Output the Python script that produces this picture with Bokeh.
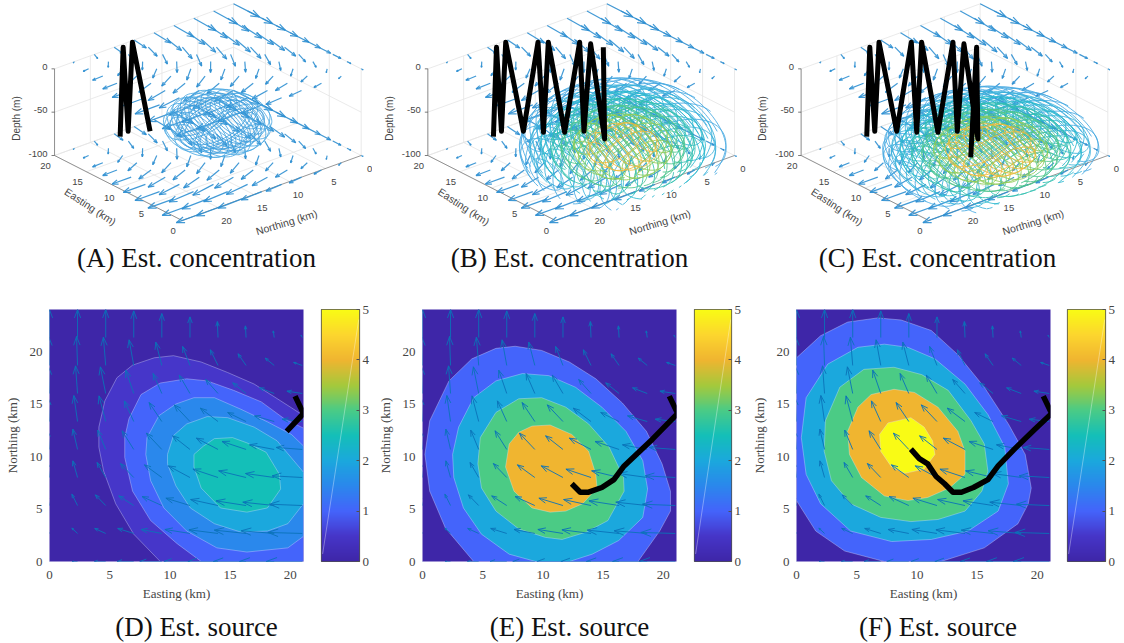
import numpy as np
from bokeh.core.properties import value
from bokeh.embed import file_html
from bokeh.layouts import column, row
from bokeh.models import FixedTicker, LinearColorMapper, Range1d
from bokeh.plotting import figure
from bokeh.resources import INLINE

# ---- velocity field (same grid in all panels); arrow lengths in plot units
EAST_GRID = [0, 2.33, 4.67, 7.0, 9.33, 11.67, 14.0, 16.33, 18.67, 21.0]
NORTH_GRID = [0, 2.67, 5.33, 8.0, 10.67, 13.33, 16.0, 18.67, 21.33]
U_ROWS = [
    [-8, -16, -34, -50, -66, -78, -90, -98, -104, -108],
    [-8, -17, -33, -48, -62, -75, -87, -95, -99, -103],
    [-7, -17, -31, -45, -59, -72, -82, -90, -94, -98],
    [-6, -14, -26, -40, -52, -65, -75, -82, -86, -90],
    [-5, -14, -24, -35, -46, -52, -65, -72, -74, -78],
    [-4, -11, -20, -28, -38, -47, -53, -55, -59, -60],
    [-3, -6, -16, -24, -26, -32, -37, -40, -44, -46],
    [-2, -3, -7, -14, -18, -22, -23, -24, -27, -26],
    [0, 0, 0, 0, 0, 0, -2, -2, -3, -4],
]
V_ROWS = [
    [0, 0, 0, 0, 0, 0, 0, 0, 0, 0],
    [15, 16, 15, 15, 12, 12, 11, 10, 8, 3],
    [30, 34, 32, 29, 27, 22, 18, 14, 10, 4],
    [45, 50, 45, 42, 38, 35, 25, 20, 12, 5],
    [55, 61, 58, 56, 49, 41, 34, 24, 14, 6],
    [70, 78, 77, 62, 57, 50, 40, 27, 17, 7],
    [80, 83, 80, 70, 60, 55, 42, 32, 17, 7],
    [85, 87, 85, 77, 70, 57, 47, 35, 22, 9],
    [84, 84, 84, 80, 72, 62, 48, 35, 20, 7],
]

# ---- source contours: (easting km, northing km)
D_05 = [(9.2,0),(7.0,2.6),(5.5,5.5),(4.5,8.6),(4.1,10.9),(4.1,12.8),(4.6,15.3),(5.6,17.5),(6.9,18.7),(8.7,19.4),(10.3,19.6),(12.6,19.0),(14.8,18.0),(17.0,16.9),(19.2,15.3),(21.1,13.9),(21.1,0)]
D_10 = [(12.6,0),(10.6,1.7),(8.4,3.9),(6.9,6.7),(6.25,9.9),(6.25,11.8),(6.6,13.6),(7.6,15.9),(9.2,17.0),(11.4,17.4),(13.1,17.2),(15.3,16.3),(17.6,15.2),(19.5,13.6),(21.1,12.7),(21.1,0)]
D_15 = [(21.1,2.4),(19.8,1.3),(16.4,0.9),(13.9,1.3),(11.4,2.9),(9.5,5.1),(8.4,7.7),(8.0,10.2),(8.1,11.8),(9.1,13.9),(10.5,15.0),(12.0,15.6),(13.7,15.6),(15.9,14.5),(18.1,13.3),(20.1,12.1),(21.1,11.0)]
D_20 = [(21.1,5.5),(19.8,3.6),(18.1,2.9),(15.9,2.8),(13.7,3.6),(11.7,5.1),(10.5,7.2),(9.8,9.3),(9.8,10.2),(10.3,12.0),(11.4,13.1),(13.1,13.8),(14.8,13.7),(17.0,12.8),(18.9,11.5),(21.1,8.5)]
D_25 = [(12.0,9.0),(12.0,10.2),(12.8,11.0),(13.7,11.7),(15.2,11.8),(16.4,11.3),(18.0,10.4),(19.1,8.3),(19.2,6.9),(18.1,5.1),(16.4,4.7),(14.2,5.1),(12.6,7.0)]
E_1 = [(4.25,0),(1.9,3.2),(0.6,6.7),(0.2,10.2),(0.6,13.4),(2.2,17.2),(4.1,19.3),(6.1,20.3),(7.7,20.5),(9.9,20.1),(12.2,19.0),(14.4,17.4),(16.6,15.1),(18.6,12.4),(19.9,9.3),(20.6,6.7),(20.6,4.8),(19.7,2.9),(17.9,0)]
E_2 = [(9.4,0),(7.2,0.7),(4.9,2.6),(3.4,5.1),(2.6,8.0),(2.5,10.2),(3.0,12.8),(4.25,15.6),(6.1,17.2),(8.3,17.9),(10.5,17.7),(12.7,16.6),(14.9,14.7),(16.9,12.4),(18.3,9.6),(18.7,6.9),(18.3,4.2),(16.3,2.0),(14.1,0.7),(12.2,0)]
E_3 = [(10.2,2.3),(8.0,3.1),(6.1,4.8),(4.9,7.0),(4.6,9.3),(4.8,11.8),(6.1,14.2),(8.0,15.5),(9.9,15.6),(11.9,14.7),(13.8,13.1),(15.5,10.9),(16.7,8.0),(16.75,6.7),(15.4,3.9),(13.6,2.8),(11.6,2.1)]
E_4 = [(10.6,4.7),(9.1,5.1),(7.6,6.7),(6.9,9.0),(7.2,11.2),(8.0,12.3),(9.1,12.9),(10.6,13.0),(12.4,12.1),(13.8,10.5),(14.4,8.3),(14.5,7.0),(13.3,5.5),(11.9,4.8)]
F_1 = [(0,5.8),(1.6,2.9),(4.0,1.0),(7.3,0),(12.0,0),(15.6,1.3),(18.4,3.6),(19.25,5.5),(19.5,7.0),(19.0,10.2),(17.6,13.1),(15.6,16.6),(13.4,19.7),(11.2,22.0),(8.7,23.0),(6.75,23.2),(4.25,22.8),(2.0,21.5),(0,19.4)]
F_2 = [(7.9,1.9),(4.5,2.9),(2.0,5.5),(0.8,8.3),(0.4,11.8),(0.8,15.6),(2.6,18.8),(5.1,20.4),(7.3,20.7),(9.25,20.4),(11.5,19.3),(14.0,16.9),(15.9,14.0),(17.3,10.9),(17.6,7.4),(16.75,4.8),(14.25,2.9),(11.2,2.1)]
F_3 = [(9.5,3.8),(7.0,4.2),(4.5,5.5),(2.9,7.7),(2.3,10.5),(2.4,13.4),(3.6,16.6),(5.6,18.3),(8.1,18.5),(10.4,17.8),(12.6,16.3),(14.5,13.4),(15.6,11.2),(15.9,8.6),(15.4,6.7),(14.0,4.8),(11.75,4.0)]
F_4 = [(9.25,5.8),(7.3,6.25),(5.4,8.0),(4.4,10.2),(4.25,12.4),(5.1,14.7),(6.2,15.9),(8.1,16.4),(9.8,16.1),(11.75,14.7),(13.4,12.4),(14.0,10.5),(14.0,8.3),(12.7,7.0),(10.9,6.1)]
F_5 = [(9.0,8.4),(7.9,9.0),(7.0,10.5),(6.9,12.1),(7.6,13.2),(9.5,13.7),(10.6,12.8),(11.3,11.5),(11.5,10.2),(10.6,8.8)]

# ---- vehicle paths on the source maps
PATH_D = [(20.4,15.75),(21.1,14.1),(19.7,12.4)]
PATH_E = [(20.5,15.75),(21.2,14.1),(19.1,11.65),(16.75,9.1),(15.9,7.8),(14.9,7.05),(13.8,6.6),(13.1,6.6),(12.4,7.4)]
PATH_F = [(20.5,15.75),(21.2,14.1),(19.8,12.6),(18.1,10.7),(16.75,9.1),(15.9,7.8),(14.7,7.05),(13.7,6.6),(13.0,6.6),(12.3,7.4),(11.6,8.1),(10.9,9.3),(10.2,9.8),(9.5,10.7)]

# ---- vehicle track in 3-D
TRACK_E = [18.64, 20.96, 19.08, 21.26, 17.65, 19.15, 16.17, 18.48, 14.78, 16.44, 13.7, 15.43, 10.98, 14.0, 8.15]
TRACK_N = [17.05, 14.56, 15.54, 13.0, 13.75, 10.37, 12.27, 9.53, 10.55, 6.97, 8.81, 6.34, 8.35, 5.84, 11.88]
TRACK_Z = [-97, -10, -97, -10, -97, -10, -97, -10, -97, -10, -97, -10, -97, -10, -97]
TRACK_LEN = {"A": 5, "B": 14, "C": 15}

# ---- estimated concentration iso-surfaces
SLICE_E = [1, 3.5, 6, 8.5, 11, 13.5, 16, 18.5]
SLICE_N = [1, 2.25, 3.5, 4.75, 6, 7.25, 8.5, 9.75, 11, 12.25, 13.5, 14.75, 16, 17.25, 18.5, 19.75, 21, 22.25, 23.5]
PLUME_A = dict(centre=(13.3, 8.2, -88), axes=(5.5, 5.8, 29), levels=[1.0, 0.88, 0.76], floor=-140,
               colors=["#4aa8e2", "#3f9fdd", "#3f9fdd"])
PLUME_B = dict(centre=(7.3, 9.1, -90), axes=(10.5, 11.0, 61), levels=[1.0, 0.9, 0.8, 0.7, 0.6, 0.48, 0.35], floor=-118,
               colors=["#46a9e2", "#3ab2da", "#2cb8cf", "#33bfb0", "#4cc68c", "#8fcb55", "#eeba3a"])
PLUME_C = dict(centre=(7.0, 10.1, -90), axes=(11.0, 11.5, 51), levels=[1.0, 0.92, 0.84, 0.74, 0.64, 0.53, 0.42], floor=-118,
               colors=["#46a9e2", "#3ab2da", "#2cb8cf", "#33bfb0", "#4cc68c", "#8fcb55", "#eeba3a"])

# ---- labels
TICKS_3D = [0, 5, 10, 15, 20]
DEPTH_TICKS = [0, -50, -100]
TICKS_2D = [0, 5, 10, 15, 20]
CB_TICKS = [0, 1, 2, 3, 4, 5]
CAPTIONS = ["(A) Est. concentration", "(B) Est. concentration", "(C) Est. concentration",
            "(D) Est. source", "(E) Est. source", "(F) Est. source"]

# ---- colours
ANCHOR_T = [0, .1, .2, .3, .4, .5, .6, .7, .8, .9, 1]
ANCHOR_C = ["#3e26a8", "#4636c9", "#4464fb", "#2a88ec", "#1ba8dd", "#14bfb8",
            "#4bcb85", "#a5c93c", "#f0b530", "#fcd52e", "#f9fb15"]


def parula(t):
    rgb = np.array([[int(c[i:i + 2], 16) for i in (1, 3, 5)] for c in ANCHOR_C], float)
    return "#%02x%02x%02x" % tuple(int(round(np.interp(t, ANCHOR_T, rgb[:, i]))) for i in range(3))


PALETTE = [parula(t) for t in np.linspace(0, 1, 256)]
E_MAX, N_MAX = 20.0, 25.0
QU, QV = 1 / 36, 1 / 31.5      # arrow length units -> km
FONT_3D = value("Liberation Sans")
FONT_2D = value("Liberation Serif")
GREY = "#454545"


def arrows(x0, y0, x1, y1):
    xs, ys = [], []
    for a, b, c, d in zip(x0, y0, x1, y1):
        dx, dy = c - a, d - b
        xs.append([a, c]); ys.append([b, d])
        bx, by = c - .3 * dx, d - .3 * dy
        nx, ny = -dy * .11, dx * .11
        xs.append([bx + nx, c, bx - nx]); ys.append([by + ny, d, by - ny])
    return xs, ys


def panel3d(name, left, width, ox, plume, caption, cap_x):
    def P(e, n, z):
        e, n, z = np.asarray(e, float), np.asarray(n, float), np.asarray(z, float)
        return ox - 7.16 * n - 6.383 * e, 155 + 2.6 * n - 3.25 * e - 0.8667 * (z + 100)

    p = figure(width=width, height=275, output_backend="svg", toolbar_location=None,
               x_range=Range1d(left, left + width), y_range=Range1d(275, 0),
               min_border=0, outline_line_color=None, x_axis_location=None, y_axis_location=None)
    p.grid.visible = False

    # walls and floor grid
    gx, gy = [], []
    def seg(a, b):
        x, y = P([a[0], b[0]], [a[1], b[1]], [a[2], b[2]])
        gx.append(list(x)); gy.append(list(y))
    for z in DEPTH_TICKS:
        seg((E_MAX, 0, z), (E_MAX, N_MAX, z)); seg((0, 0, z), (E_MAX, 0, z))
    for n in TICKS_3D[1:] + [N_MAX]:
        seg((E_MAX, n, 0), (E_MAX, n, -100)); seg((0, n, -100), (E_MAX, n, -100))
    for e in TICKS_3D[1:]:
        seg((e, 0, 0), (e, 0, -100)); seg((e, 0, -100), (e, N_MAX, -100))
    seg((0, 0, 0), (0, 0, -100))
    p.multi_line(gx, gy, line_color="#e4e4e4", line_width=0.8)

    # box axes
    ax, ay = [], []
    gx, gy = ax, ay
    seg((E_MAX, N_MAX, 0), (E_MAX, N_MAX, -100))
    seg((E_MAX, N_MAX, -100), (0, N_MAX, -100))
    seg((0, N_MAX, -100), (0, 0, -100))
    p.multi_line(ax, ay, line_color="#6a6a6a", line_width=0.7)

    # ticks and tick labels
    x, y = P(TICKS_3D, [N_MAX] * 5, [-100] * 5)
    p.text(x - 9, y + 10, text=[str(t) for t in TICKS_3D], text_font=FONT_3D, text_font_size="9.5px",
           text_color=GREY, text_align="center", text_baseline="middle")
    x, y = P([0] * 5, TICKS_3D, [-100] * 5)
    p.text(x + 8.5, y + 13, text=[str(t) for t in TICKS_3D], text_font=FONT_3D, text_font_size="9.5px",
           text_color=GREY, text_align="center", text_baseline="middle")
    x, y = P([E_MAX] * 3, [N_MAX] * 3, DEPTH_TICKS)
    p.text(x - 7, y - 2, text=[str(t) for t in DEPTH_TICKS], text_font=FONT_3D, text_font_size="9.5px",
           text_color=GREY, text_align="right", text_baseline="middle")
    p.segment(x - 3, y, x, y, line_color=GREY, line_width=0.7)
    p.text([ox - 270.7], [206], text=["Easting (km)"], angle=[-33], angle_units="deg", text_font=FONT_3D,
           text_font_size="10.5px", text_color=GREY, text_align="center", text_baseline="middle")
    p.text([ox - 74.7], [221.7], text=["Northing (km)"], angle=[17], angle_units="deg", text_font=FONT_3D,
           text_font_size="10.5px", text_color=GREY, text_align="center", text_baseline="middle")
    p.text([ox - 345], [118], text=["Depth (m)"], angle=[90], angle_units="deg", text_font=FONT_3D,
           text_font_size="10px", text_color=GREY, text_align="center", text_baseline="middle")

    # quiver on the two depth planes
    e_s, n_s = E_MAX / EAST_GRID[-1], N_MAX / 24
    for z in (-100, 0):
        x0, y0, x1, y1 = [], [], [], []
        for j, n in enumerate(NORTH_GRID):
            for i, e in enumerate(EAST_GRID):
                a = P(e * e_s, n * n_s, z)
                b = P(e * e_s + 1.35 * U_ROWS[j][i] * QU, n * n_s + 1.35 * V_ROWS[j][i] * QV, z)
                x0.append(float(a[0])); y0.append(float(a[1])); x1.append(float(b[0])); y1.append(float(b[1]))
        xs, ys = arrows(x0, y0, x1, y1)
        p.multi_line(xs, ys, line_color="#2e8fd2", line_alpha=0.9, line_width=1.2)

    # slices through the iso-surfaces (arcs stop a little under the floor level)
    (ec, nc, zc), (ae, an, az) = plume["centre"], plume["axes"]
    floor = plume["floor"]
    t = np.linspace(0, 2 * np.pi, 73)
    t = t - np.pi / 2      # start at the lowest point so the arc is not split at the top
    for s, col in zip(plume["levels"], plume["colors"]):
        xs, ys = [], []
        def add(e, n, z):
            keep = (z >= floor) & (e >= 0) & (e <= E_MAX) & (n >= 0) & (n <= N_MAX)
            if not keep.any():
                return
            a = P(e, n, z)
            xs.append(list(np.where(keep, a[0], np.nan)))
            ys.append(list(np.where(keep, a[1], np.nan)))
        for n in SLICE_N:
            r2 = s * s - ((n - nc) / an) ** 2
            if r2 > 0.01:
                r = np.sqrt(r2)
                add(ec + ae * r * np.cos(t), np.full(73, float(n)), zc + az * r * np.sin(t))
        for e in SLICE_E:
            r2 = s * s - ((e - ec) / ae) ** 2
            if r2 > 0.01:
                r = np.sqrt(r2)
                add(np.full(73, float(e)), nc + an * r * np.cos(t), zc + az * r * np.sin(t))
        p.multi_line(xs, ys, line_color=col, line_alpha=0.85, line_width=1.0)

    # track
    k = TRACK_LEN[name]
    x, y = P(TRACK_E[:k], TRACK_N[:k], TRACK_Z[:k])
    p.line(x, y, line_color="black", line_width=5, line_join="round")

    p.text([cap_x], [257], text=[caption], text_font=FONT_2D, text_font_size="27px", text_color="#111111",
           text_align="center", text_baseline="middle")
    return p


def panel2d(width, border_l, levels, path):
    p = figure(width=width, height=335, output_backend="svg", toolbar_location=None,
               x_range=Range1d(0, 21.1), y_range=Range1d(0, 24),
               min_border_left=border_l, min_border_right=width - border_l - 254,
               min_border_top=34, min_border_bottom=49,
               outline_line_color=None, background_fill_color=ANCHOR_C[0],
               x_axis_label="Easting (km)", y_axis_label="Northing (km)")
    p.grid.visible = False
    for ax in (p.xaxis[0], p.yaxis[0]):
        ax.ticker = FixedTicker(ticks=TICKS_2D)
        ax.axis_line_color = None
        ax.major_tick_line_color = None
        ax.minor_tick_line_color = None
        ax.major_tick_out = 0
        ax.major_tick_in = 0
        ax.major_label_text_font = "Liberation Serif"
        ax.major_label_text_font_size = "13px"
        ax.major_label_text_color = GREY
        ax.axis_label_text_font = "Liberation Serif"
        ax.axis_label_text_font_style = "normal"
        ax.axis_label_text_font_size = "13px"
        ax.axis_label_text_color = GREY
    p.xaxis[0].major_label_standoff = 9
    p.xaxis[0].axis_label_standoff = 4
    p.yaxis[0].major_label_standoff = 7
    p.yaxis[0].axis_label_standoff = 7

    for lev, poly in levels:
        p.patch([c[0] for c in poly], [c[1] for c in poly], fill_color=parula(lev / 5),
                line_color="#dfe6ff", line_alpha=0.6, line_width=0.6)

    x0, y0, x1, y1 = [], [], [], []
    for j, n in enumerate(NORTH_GRID):
        for i, e in enumerate(EAST_GRID):
            x0.append(e * 12.04); y0.append(n * 10.5)
            x1.append((e + U_ROWS[j][i] * QU) * 12.04); y1.append((n + V_ROWS[j][i] * QV) * 10.5)
    xs, ys = arrows(x0, y0, x1, y1)
    xs = [[v / 12.04 for v in l] for l in xs]
    ys = [[v / 10.5 for v in l] for l in ys]
    p.multi_line(xs, ys, line_color="#0a72b8", line_alpha=0.9, line_width=1.0)

    p.line([c[0] for c in path], [c[1] for c in path], line_color="black", line_width=5.5, line_join="round")
    return p


def colorbar(width, border_l):
    p = figure(width=width, height=335, output_backend="svg", toolbar_location=None,
               x_range=Range1d(0, 1), y_range=Range1d(0, 5),
               min_border_left=border_l, min_border_right=width - border_l - 38,
               min_border_top=34, min_border_bottom=49,
               x_axis_location=None, y_axis_location="right", outline_line_color="#505050", outline_line_width=1.2)
    p.grid.visible = False
    mapper = LinearColorMapper(palette=PALETTE, low=0, high=5)
    p.image(image=[np.linspace(0, 5, 256).reshape(-1, 1)], x=0, y=0, dw=1, dh=5, color_mapper=mapper)
    p.line([0.03, 0.98], [0.15, 4.8], line_color="white", line_alpha=0.5, line_width=0.7)
    ax = p.yaxis[0]
    ax.ticker = FixedTicker(ticks=CB_TICKS)
    ax.axis_line_color = None
    ax.major_tick_out = 0
    ax.major_tick_in = 3
    ax.major_tick_line_color = "#505050"
    ax.minor_tick_line_color = None
    ax.major_label_standoff = 3
    ax.major_label_text_font = "Liberation Serif"
    ax.major_label_text_font_size = "13px"
    ax.major_label_text_color = GREY
    return p


top = row(
    panel3d("A", 0, 372, 360.7, PLUME_A, CAPTIONS[0], 196),
    panel3d("B", 372, 378, 734.0, PLUME_B, CAPTIONS[1], 569),
    panel3d("C", 750, 374, 1107.3, PLUME_C, CAPTIONS[2], 937),
)
bottom = row(
    panel2d(312, 49, [(0.5, D_05), (1, D_10), (1.5, D_15), (2, D_20), (2.5, D_25)], PATH_D),
    colorbar(60, 9),
    panel2d(314, 50, [(1, E_1), (2, E_2), (3, E_3), (4, E_4)], PATH_E),
    colorbar(58, 8),
    panel2d(315, 52, [(1, F_1), (2, F_2), (3, F_3), (4, F_4), (5, F_5)], PATH_F),
    colorbar(65, 8),
)
cap = figure(width=1124, height=32, output_backend="svg", toolbar_location=None,
             x_range=Range1d(0, 1124), y_range=Range1d(642, 610), min_border=0,
             outline_line_color=None, x_axis_location=None, y_axis_location=None)
cap.grid.visible = False
cap.text([196, 569, 937.5], [626, 626, 626], text=CAPTIONS[3:], text_font=FONT_2D, text_font_size="27px",
         text_color="#111111", text_align="center", text_baseline="middle")
page = column(top, bottom, cap)
open("out.html", "w").write(file_html(page, INLINE))
